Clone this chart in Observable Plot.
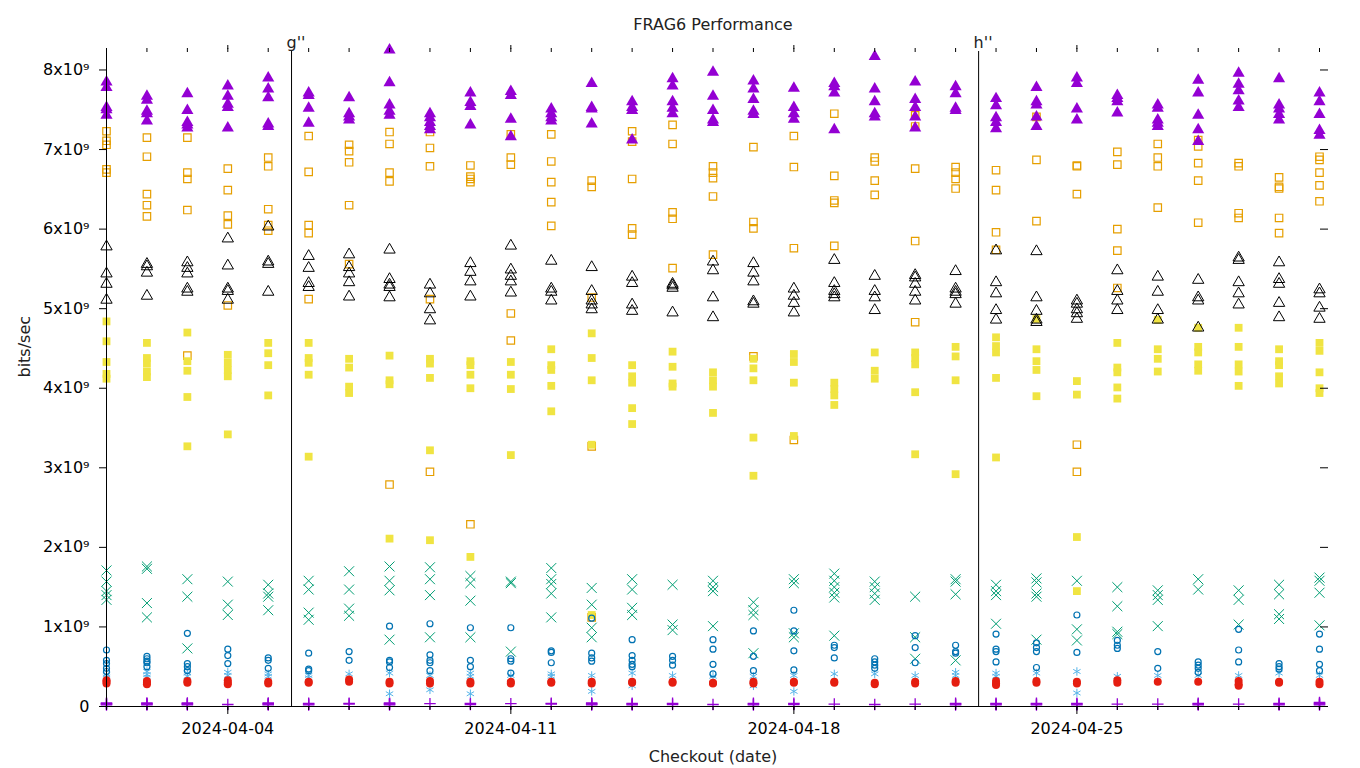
<!DOCTYPE html>
<html><head><meta charset="utf-8">
<script src="https://cdn.jsdelivr.net/npm/d3@7"></script>
<script src="https://cdn.jsdelivr.net/npm/@observablehq/plot@0.6"></script>
<style>body{margin:0;background:#fff} #chart svg{font-family:"DejaVu Sans",sans-serif}</style>
</head><body><div id="chart"></div>
<script>
// ---- data (values in units of 10^9 bits/sec) ----
const dates = ["2024-04-01","2024-04-02","2024-04-03","2024-04-04","2024-04-05","2024-04-06","2024-04-07","2024-04-08","2024-04-09","2024-04-10","2024-04-11","2024-04-12","2024-04-13","2024-04-14","2024-04-15","2024-04-16","2024-04-17","2024-04-18","2024-04-19","2024-04-20","2024-04-21","2024-04-22","2024-04-23","2024-04-24","2024-04-25","2024-04-26","2024-04-27","2024-04-28","2024-04-29","2024-04-30","2024-05-01"];
const majorTicks = ["2024-04-04","2024-04-11","2024-04-18","2024-04-25"];
const yTicks = [0,1,2,3,4,5,6,7,8];
const markerLabels = ["g''","h''"];
const markerDates = ["2024-04-05T13:50Z","2024-04-22T13:40Z"];

const s1PurplePlus = [[0.02,0.03,0.035,0.045],[0.02,0.03,0.035,0.045],[0.02,0.03,0.035,0.045],[0.025],[0.02,0.03,0.035,0.045],[0.02,0.03,0.04],[0.03,0.04],[0.02,0.03,0.035,0.045],[0.035],[0.025,0.04],[0.035],[0.03,0.04],[0.02,0.03,0.035,0.045],[0.02,0.03,0.04],[0.025,0.04],[0.025],[0.02,0.03,0.04],[0.025,0.04],[0.03],[0.025],[0.03],[0.02,0.03,0.04],[0.02,0.03,0.04],[0.02,0.03,0.04],[0.02,0.03,0.04],[0.03],[0.03],[0.02,0.03,0.04],[0.03],[0.02,0.03,0.04],[0.02,0.03,0.04,0.05]];
const s2GreenX = [[1.71,1.57,1.45,1.40,1.34],[1.76,1.73,1.30,1.12],[1.60,1.38,0.73],[1.57,1.28,1.15],[1.53,1.42,1.38,1.21],[1.58,1.47,1.18,1.09],[1.70,1.47,1.23,1.14],[1.76,1.58,1.46,0.84],[1.75,1.60,1.40,0.87],[1.64,1.55,1.33,0.87],[1.57,1.55,0.69],[1.74,1.60,1.54,1.42,1.12],[1.49,1.28,0.99,0.87],[1.60,1.47,1.24,1.15],[1.53,1.03,0.96],[1.58,1.50,1.45,1.01],[1.31,1.21,1.15,0.67],[1.60,1.55,0.92,0.87],[1.67,1.58,1.50,1.43,1.37,0.89],[1.57,1.50,1.42,1.34],[1.38,0.87,0.60],[1.60,1.57,1.41,0.58],[1.53,1.45,1.40,1.04],[1.61,1.56,1.42,1.38,0.84],[1.58,0.97,0.83],[1.50,1.26,0.94,0.91],[1.46,1.40,1.34,1.01],[1.60,1.47],[1.46,1.34,1.03],[1.53,1.41,1.16,1.10],[1.62,1.58,1.43,1.02]];
const s3LightBlueAst = [[0.40,0.37],[0.44,0.40,0.37],[0.42,0.38],[0.43,0.39],[0.41,0.38],[0.39,0.36],[0.41],[0.42,0.16],[0.39,0.21],[0.42,0.38,0.16],[0.39],[0.41,0.38],[0.39,0.19],[0.42,0.26],[0.39],[0.38],[0.38,0.26],[0.39,0.19],[0.41],[0.41],[0.39],[0.43,0.39],[0.42,0.38],[0.42],[0.44,0.17],[0.38],[0.39],[0.39],[0.39],[0.42],[0.39]];
const s4OrangeSq = [[7.23,7.11,7.06,6.75,6.71],[7.15,6.91,6.44,6.30,6.16],[7.15,6.71,6.63,6.24,4.41],[6.76,6.49,6.17,6.06,5.04],[6.90,6.79,6.25,6.05,5.98],[7.17,6.72,6.05,5.95,5.12],[7.06,6.98,6.84,6.30,5.56],[7.22,7.07,6.71,6.60,2.79],[7.22,7.02,6.79,5.12,2.95],[6.80,6.66,6.63,6.59,2.29],[7.19,6.90,6.81,4.94,4.60],[7.19,6.85,6.59,6.34,6.04],[6.61,6.53,5.14,3.27,1.12],[7.23,7.10,6.63,6.01,5.93],[7.31,7.07,6.21,6.13,5.51],[6.79,6.71,6.64,6.41,5.68],[7.03,6.09,6.01,4.40],[7.17,6.78,5.76,3.35],[7.45,6.67,6.36,6.33,5.79],[6.90,6.85,6.61,6.43],[7.43,7.29,6.76,5.85,4.83],[6.78,6.71,6.63,6.51],[6.74,6.49,5.96,5.74],[7.41,6.87,6.10],[6.80,6.79,6.44,3.29,2.95],[6.97,6.81,6.00,5.73,5.26],[7.07,6.90,6.79,6.27],[7.12,7.04,6.83,6.61,6.08],[6.83,6.79,6.20,6.14],[6.65,6.53,6.51,6.14,5.95],[6.91,6.87,6.71,6.55,6.35]];
const s5YellowSq = [[4.84,4.59,4.33,4.18,4.12],[4.57,4.38,4.31,4.21,4.14],[4.70,4.34,4.22,3.89,3.27],[4.42,4.32,4.23,4.15,3.42],[4.57,4.44,4.29,3.91],[4.57,4.38,4.32,4.17,3.14],[4.37,4.26,4.02,3.94],[4.41,4.10,4.05,2.11],[4.37,4.31,4.13,3.22,2.09],[4.34,4.29,4.17,4.00,1.88],[4.33,4.17,3.99,3.16],[4.49,4.29,4.23,4.03,3.71],[4.69,4.38,4.10,3.29,1.15],[4.29,4.15,4.07,3.75,3.55],[4.46,4.27,4.06,4.02],[4.20,4.10,4.02,3.69],[4.37,4.25,4.10,3.38,2.90],[4.43,4.33,4.07,3.40],[4.07,3.99,3.91,3.79],[4.45,4.22,4.12],[4.45,4.38,4.30,3.95,3.17],[4.52,4.40,4.10,2.92],[4.64,4.53,4.45,4.13,3.13],[4.87,4.49,4.34,4.23,3.90],[4.09,3.92,2.13,1.45],[4.57,4.26,4.20,4.01,3.87],[4.86,4.49,4.37,4.21],[4.76,4.52,4.45,4.30,4.22],[4.76,4.52,4.30,4.21,4.03],[4.49,4.34,4.29,4.15,4.06],[4.57,4.47,4.20,4.00,3.94]];
const s6BlueCircle = [[0.71,0.58,0.54,0.48,0.44],[0.63,0.60,0.57,0.55,0.50],[0.92,0.54,0.50,0.45],[0.72,0.64,0.54],[0.61,0.58,0.48],[0.67,0.47,0.45],[0.69,0.58],[1.01,0.58,0.56,0.49],[1.04,0.65,0.58,0.55,0.45],[0.99,0.58,0.50],[0.99,0.60,0.57,0.42],[0.70,0.68,0.55],[1.11,0.67,0.61,0.57],[0.84,0.64,0.58,0.53,0.50],[0.63,0.58,0.52],[0.84,0.72,0.53,0.41],[0.95,0.63,0.45],[1.21,0.95,0.70,0.46],[0.77,0.74,0.61],[0.60,0.56,0.52,0.48],[0.89,0.74,0.55],[0.77,0.69,0.67],[0.91,0.72,0.69,0.56],[0.80,0.74,0.69,0.49],[1.15,0.68],[0.83,0.77,0.73],[0.69,0.48],[0.56,0.52,0.48,0.43],[0.97,0.71,0.56],[0.54,0.50,0.47],[0.91,0.72,0.53,0.45]];
const s7RedDot = [[0.33,0.31,0.29],[0.32,0.30,0.28],[0.32,0.30],[0.33,0.30,0.28],[0.31,0.29],[0.31,0.30],[0.34,0.31],[0.31,0.29],[0.32,0.29],[0.31,0.29],[0.31,0.29],[0.31,0.30],[0.31,0.29],[0.31,0.30],[0.31,0.30],[0.30,0.29],[0.31,0.29],[0.31,0.30],[0.31,0.30],[0.30,0.28],[0.31,0.29],[0.32,0.30],[0.32,0.29,0.27],[0.32,0.30],[0.31,0.29],[0.33,0.30],[0.31],[0.31],[0.32,0.28,0.26],[0.31,0.30],[0.31,0.28]];
const s8BlackTri = [[5.78,5.44,5.31,5.11],[5.56,5.53,5.45,5.16],[5.58,5.51,5.44,5.25,5.21],[5.88,5.54,5.25,5.22,5.11],[6.03,5.59,5.56,5.21],[5.66,5.51,5.32,5.27],[5.68,5.52,5.44,5.33,5.15],[5.74,5.37,5.30,5.27,5.14],[5.30,5.19,4.99,4.85],[5.57,5.46,5.34,5.15],[5.79,5.49,5.41,5.34,5.20],[5.60,5.25,5.21,5.10],[5.52,5.22,5.10,5.05,4.99],[5.40,5.32,5.05,4.97],[5.31,5.29,5.26,4.95],[5.59,5.48,5.14,4.89],[5.57,5.45,5.34,5.09,5.06],[5.25,5.16,5.07,4.95],[5.61,5.32,5.22,5.18,5.14],[5.41,5.22,5.14,4.98],[5.42,5.39,5.31,5.21,5.10],[5.47,5.25,5.21,5.18,5.06],[5.73,5.33,5.19,4.98,4.86],[5.72,5.14,4.97,4.86,4.83],[5.10,5.06,4.99,4.94,4.87],[5.48,5.22,5.10,4.98],[5.40,5.21,4.98,4.86],[5.36,5.14,5.10,4.76],[5.64,5.61,5.33,5.19,5.05],[5.58,5.37,5.31,5.07,4.89],[5.24,5.19,5.01,4.87]];
const s9PurpleTri = [[7.85,7.78,7.53,7.50,7.43],[7.67,7.62,7.48,7.45,7.36],[7.70,7.49,7.34,7.31,7.27],[7.80,7.67,7.57,7.53,7.27],[7.90,7.76,7.65,7.32,7.29],[7.71,7.68,7.52,7.33],[7.65,7.45,7.41,7.37],[8.25,7.84,7.56,7.48,7.43],[7.45,7.40,7.34,7.29,7.25],[7.71,7.59,7.54,7.31],[7.73,7.68,7.38,7.16],[7.51,7.45,7.40,7.36],[7.83,7.53,7.51,7.32],[7.60,7.53,7.49,7.12],[7.89,7.80,7.60,7.52,7.45],[7.97,7.67,7.49,7.37,7.34],[7.86,7.76,7.63,7.48,7.44],[7.77,7.53,7.45,7.38],[7.83,7.79,7.71,7.25],[8.17,7.76,7.60,7.45,7.41],[7.85,7.63,7.53,7.41,7.27],[7.79,7.70,7.52,7.49],[7.64,7.55,7.40,7.34,7.26],[7.78,7.60,7.56,7.41,7.29],[7.90,7.83,7.51,7.37],[7.68,7.64,7.60,7.46],[7.56,7.52,7.37,7.33,7.29],[7.87,7.71,7.43,7.25,7.10],[7.96,7.82,7.74,7.61,7.53],[7.89,7.56,7.51,7.44,7.37],[7.71,7.60,7.44,7.24,7.18]];

// ---- build tables ----
const toDate = s => new Date(s);
const rows = series => series.flatMap((vals, i) => vals.map(v => ({date: toDate(dates[i]), value: v * 1e9})));
const dayTicks = dates.map(toDate);
const majorTickDates = majorTicks.map(toDate);
const markers = markerLabels.map((label, i) => ({label, date: toDate(markerDates[i])}));
const yTickValues = yTicks.map(v => v * 1e9);
const yFmt = v => v === 0 ? "0" : `${Math.round(v / 1e9)}x10⁹`;

const W = 1360, H = 768, mL = 106, mR = 41, mT = 48, mB = 62;
const plotH = H - mT - mB;

const chart = Plot.plot({
  width: W, height: H,
  marginLeft: mL, marginRight: mR, marginTop: mT, marginBottom: mB,
  style: {fontFamily: "DejaVu Sans, sans-serif", fontSize: "16px", color: "black", background: "white"},
  x: {type: "utc", domain: [dayTicks[0], dayTicks[dayTicks.length - 1]]},
  y: {domain: [0, 8.27e9]},
  marks: [
    // series, drawn in gnuplot order
    Plot.dot(rows(s1PurplePlus), {x: "date", y: "value", symbol: "plus", stroke: "#9400d3", fill: "none", r: 3.8, strokeWidth: 1.3}),
    Plot.dot(rows(s2GreenX), {x: "date", y: "value", symbol: "times", stroke: "#009e73", fill: "none", r: 4.6, strokeWidth: 1}),
    Plot.dot(rows(s3LightBlueAst), {x: "date", y: "value", symbol: "asterisk", stroke: "#56b4e9", fill: "none", r: 4, strokeWidth: 1}),
    Plot.dot(rows(s4OrangeSq), {x: "date", y: "value", symbol: "square", stroke: "#e69f00", fill: "none", r: 4.2, strokeWidth: 1.2}),
    Plot.dot(rows(s5YellowSq), {x: "date", y: "value", symbol: "square", fill: "#f0e442", stroke: "none", r: 4.4}),
    Plot.dot(rows(s6BlueCircle), {x: "date", y: "value", symbol: "circle", stroke: "#0072b2", fill: "none", r: 3, strokeWidth: 1.2}),
    Plot.dot(rows(s7RedDot), {x: "date", y: "value", symbol: "circle", fill: "#e51e10", stroke: "none", r: 4}),
    Plot.dot(rows(s8BlackTri), {x: "date", y: "value", symbol: "triangle", stroke: "black", fill: "none", r: 4.2, strokeWidth: 1}),
    Plot.dot(rows(s9PurpleTri), {x: "date", y: "value", symbol: "triangle", fill: "#9400d3", stroke: "none", r: 4.5}),
    // axes
    Plot.ruleX([dayTicks[0]], {stroke: "black"}),
    Plot.ruleY([0], {stroke: "black"}),
    Plot.ruleX(markers, {x: "date", stroke: "black", insetTop: 3}),
    Plot.text(markers, {x: "date", text: "label", frameAnchor: "top", textAnchor: "start", lineAnchor: "bottom", dx: -5, dy: -1, fontSize: 16, fill: "#222"}),
    Plot.axisY(yTickValues, {anchor: "left", tickSize: 7, tickPadding: 10, tickFormat: yFmt, label: null, fontSize: 16}),
    Plot.axisY(yTickValues, {anchor: "right", tickSize: 8, tickFormat: () => "", label: null}),
    Plot.axisX(dayTicks, {anchor: "bottom", tickSize: 4, tickFormat: () => "", label: null}),
    Plot.axisX(majorTickDates, {anchor: "bottom", tickSize: 8, tickPadding: 8, tickFormat: d3.utcFormat("%Y-%m-%d"), label: null, fontSize: 16}),
    Plot.axisX(majorTickDates, {anchor: "top", tickSize: 4, tickFormat: () => "", label: null}),
    Plot.tickX(dayTicks, {x: d => d, stroke: "black", insetBottom: plotH - 4}),
    // titles
    Plot.text(["FRAG6 Performance"], {frameAnchor: "top", lineAnchor: "bottom", dy: -19, fontSize: 16, fill: "#222"}),
    Plot.text(["Checkout (date)"], {frameAnchor: "bottom", lineAnchor: "bottom", dy: 55, fontSize: 16, fill: "#222"}),
    Plot.text(["bits/sec"], {frameAnchor: "left", rotate: -90, dx: -82, fontSize: 16, fill: "#222"})
  ]
});
document.getElementById("chart").append(chart);
</script>
</body></html>
